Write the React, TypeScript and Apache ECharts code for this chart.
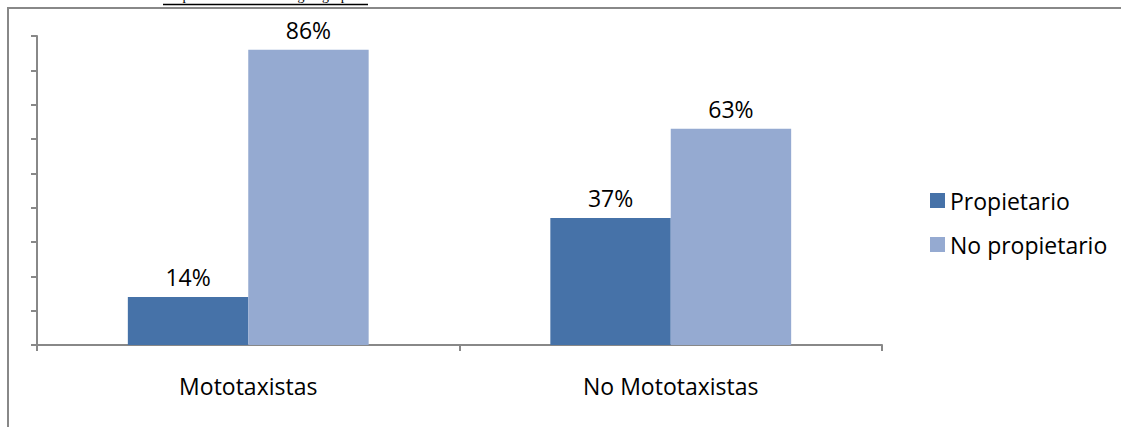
import React, { useEffect, useRef } from "react";
import * as echarts from "echarts";

const categories = ["Mototaxistas", "No Mototaxistas"];
const seriesNames = ["Propietario", "No propietario"];
const propietario = [0.14, 0.37];
const noPropietario = [0.86, 0.63];
const titleText = "Propiedad de la moto según grupo";

const FONT = "'Open Sans', 'Noto Sans', sans-serif";
const FS = 23;

export default function App() {
  const ref = useRef<HTMLDivElement>(null);
  useEffect(() => {
    document.body.style.margin = "0";
    const chart = echarts.init(ref.current!, null, { renderer: "svg" });
    const label = {
      show: true,
      position: "top",
      distance: 8,
      color: "#000",
      fontSize: FS,
      fontFamily: FONT,
      formatter: (p: any) => Math.round(p.value * 100) + "%",
    };
    chart.setOption({
      animation: false,
      backgroundColor: "#fff",
      graphic: [
        {
          type: "rect",
          shape: { x: 8, y: 8, width: 1300, height: 600 },
          style: { fill: "none", stroke: "#888", lineWidth: 2 },
          silent: true,
        },
        {
          type: "text",
          x: 163,
          y: 2,
          style: {
            text: titleText,
            font: "14px 'Liberation Serif', 'DejaVu Serif', serif",
            fill: "#000",
            textVerticalAlign: "bottom",
          },
          silent: true,
        },
        {
          type: "line",
          shape: { x1: 163, y1: 4.5, x2: 368, y2: 4.5 },
          style: { stroke: "#000", lineWidth: 1.5 },
          silent: true,
        },
      ],
      legend: {
        orient: "vertical",
        left: 925,
        top: 184,
        itemWidth: 15,
        itemHeight: 15,
        itemGap: 21,
        icon: "rect",
        textStyle: { fontSize: FS, fontFamily: FONT, color: "#000" },
        data: seriesNames,
      },
      grid: { left: 37, right: 239, top: 36, bottom: 82, containLabel: false },
      xAxis: {
        type: "category",
        data: categories,
        axisLine: { lineStyle: { color: "#888", width: 2 } },
        axisTick: { show: true, length: 6, lineStyle: { color: "#888", width: 2 } },
        axisLabel: { color: "#000", fontSize: FS, fontFamily: FONT, margin: 29 },
      },
      yAxis: {
        type: "value",
        min: 0,
        max: 0.9,
        interval: 0.1,
        splitLine: { show: false },
        axisLine: { show: true, lineStyle: { color: "#888", width: 2 } },
        axisTick: { show: true, length: 6, lineStyle: { color: "#888", width: 2 } },
        axisLabel: { show: false },
      },
      series: [
        {
          name: seriesNames[0],
          type: "bar",
          data: propietario,
          itemStyle: { color: "#4672A8" },
          barGap: "0%",
          barCategoryGap: "43%",
          label,
        },
        {
          name: seriesNames[1],
          type: "bar",
          data: noPropietario,
          itemStyle: { color: "#95AAD1" },
          barGap: "0%",
          barCategoryGap: "43%",
          label,
        },
      ],
    });
    return () => chart.dispose();
  }, []);
  return (
    <div
      ref={ref}
      style={{ position: "fixed", left: 0, top: 0, width: 1121, height: 427 }}
    />
  );
}
